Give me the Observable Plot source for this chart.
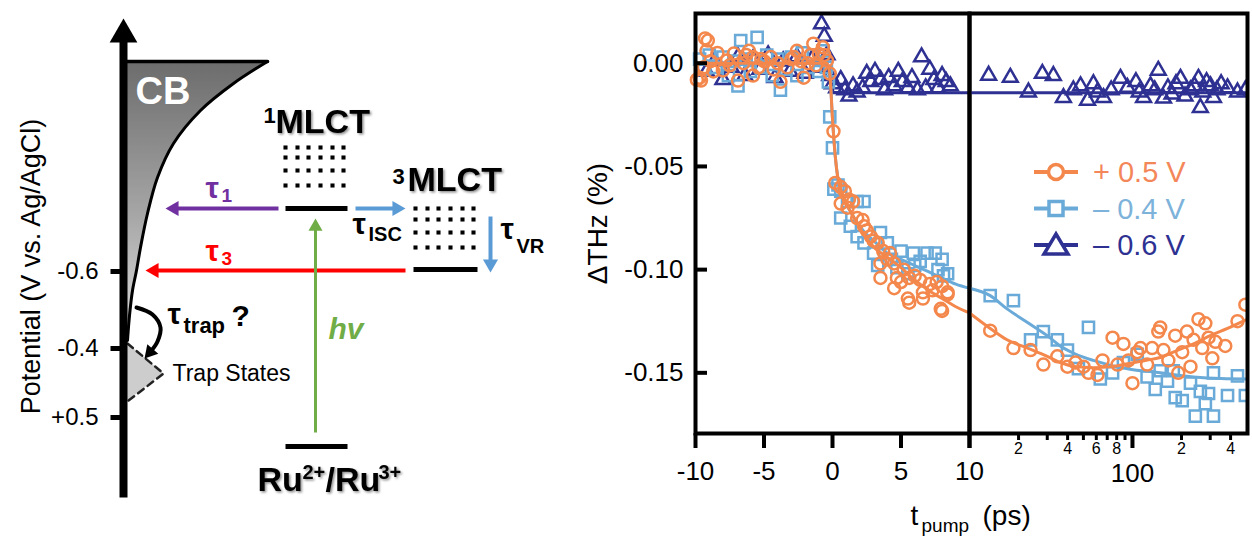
<!DOCTYPE html>
<html><head><meta charset="utf-8">
<script src="https://cdn.jsdelivr.net/npm/d3@7"></script>
<script src="https://cdn.jsdelivr.net/npm/@observablehq/plot@0.6"></script>
<style>
body{margin:0;background:#fff;}
#wrap{position:relative;width:1252px;height:536px;overflow:hidden;background:#fff;font-family:"Liberation Sans",Arial,sans-serif;}
#wrap svg{position:absolute;overflow:visible;}
</style></head><body><div id="wrap"></div>
<script>
// ---------------- DATA (chart) ----------------
const seriesLabels = ["+ 0.5 V", "– 0.4 V", "– 0.6 V"];
const yTicks = [0, -0.05, -0.10, -0.15];
const xTicksLinear = [-10, -5, 0, 5, 10];
const xTicksLogMajor = [10, 100];
const xTicksLogMinor = [20, 30, 40, 50, 60, 70, 80, 90, 200, 300, 400];
const minorTickLabels = {20: "2", 40: "4", 60: "6", 80: "8", 200: "2", 400: "4"};

// + 0.5 V  (t in ps, ΔTHz in %)
const orangePts = [
 [-9.9,-0.008],[-9.7,-0.007],[-9.6,-0.0084],[-9.4,-0.002],[-9.3,0.012],[-9.1,0.011],[-9.2,0.006],[-8.9,0.001],[-8.7,-0.004],[-8.4,0.005],
 [-8.0,-0.0035],[-7.7,0.0013],[-7.5,-0.001],[-7.2,0.0047],[-6.9,-0.0084],[-6.5,0.0],[-6.3,0.004],[-6.1,0.006],[-5.8,0.003],[-5.8,-0.006],
 [-5.4,-0.002],[-5.2,0.002],[-5.0,0.001],[-4.5,0.003],[-4.3,-0.003],[-4.0,0.0],[-3.8,-0.009],[-3.3,-0.002],[-3.0,0.002],[-2.8,0.003],
 [-2.6,0.006],[-2.3,0.001],[-2.1,-0.007],[-1.8,0.0],[-1.6,0.004],[-1.4,0.0095],[-1.2,-0.001],[-1.0,0.0045],[-0.7,0.0077],[-0.6,0.004],
 [-0.4,0.0013],[-0.2,-0.005],
 [0.07,-0.033],[0.2,-0.058],[0.6,-0.060],[0.9,-0.062],[1.2,-0.066],[1.5,-0.067],[0.6,-0.068],[1.1,-0.070],[1.8,-0.075],[2.2,-0.076],
 [2.3,-0.079],[2.5,-0.081],[2.8,-0.084],[3.0,-0.086],[3.3,-0.087],[3.7,-0.091],[4.0,-0.095],[4.2,-0.092],[3.5,-0.097],[4.5,-0.097],
 [5.2,-0.100],[4.7,-0.104],[3.5,-0.104],[5.6,-0.104],[6.0,-0.103],[6.4,-0.105],[7.1,-0.107],[7.6,-0.106],[6.6,-0.111],[8.4,-0.111],
 [4.5,-0.109],[5.5,-0.114],[5.6,-0.116],[7.9,-0.119],[6.6,-0.114],[8.4,-0.112],[7.3,-0.110],[8.0,-0.108],[5.0,-0.106],[8.0,-0.120],
 [13.4,-0.1296],[18.6,-0.138],[23.7,-0.139],[28.4,-0.146],[34.6,-0.142],[39.9,-0.147],[44.7,-0.145],[50.1,-0.147],[53.7,-0.150],[61.0,-0.151],
 [65.5,-0.144],[75.5,-0.133],[81,-0.146],[88,-0.136],[94.5,-0.144],[100,-0.155],[107,-0.140],[112,-0.138],[123,-0.146],[132,-0.138],
 [144,-0.130],[148,-0.128],[155,-0.139],[166,-0.144],[183,-0.132],[191,-0.150],[202,-0.140],[216,-0.130],[227,-0.147],[237,-0.134],
 [254,-0.124],[268,-0.138],[280,-0.126],[293,-0.133],[309,-0.143],[323,-0.135],[371,-0.137],[441,-0.125],[493,-0.117]
];
const orangeFit = [
 [-10,0],[-0.4,0],[-0.2,-0.005],[0,-0.027],[0.2,-0.045],[0.4,-0.056],[0.7,-0.063],[1,-0.068],[1.5,-0.074],[2,-0.080],[2.5,-0.085],
 [3,-0.089],[4,-0.094],[5,-0.099],[6,-0.105],[7,-0.110],[8,-0.114],[9,-0.118],[10,-0.121],
 [13.4,-0.1285],[17,-0.134],[22.7,-0.138],[30,-0.142],[36,-0.145],[45,-0.147],[57.6,-0.1475],[75,-0.147],[93,-0.1456],[120,-0.144],
 [148,-0.1426],[190,-0.139],[237,-0.136],[300,-0.132],[383,-0.1285],[508,-0.124]
];

// – 0.4 V
const bluePts = [
 [-9.7,0.002],[-9.4,-0.003],[-9.0,0.004],[-8.5,-0.002],[-8.0,0.003],[-7.6,-0.006],[-7.2,0.001],[-6.9,-0.011],[-6.7,0.011],[-6.3,0.002],
 [-6.0,-0.004],[-5.5,0.0125],[-5.2,-0.002],[-4.8,0.004],[-4.4,-0.006],[-4.0,0.002],[-3.8,-0.013],[-3.4,-0.003],[-3.0,0.003],[-2.6,-0.006],
 [-2.2,0.005],[-1.8,-0.002],[-1.4,0.004],[-1.0,-0.004],[-0.7,0.006],[-0.45,-0.002],[-0.3,-0.009],
 [-0.2,-0.026],[0.0,-0.041],[0.1,-0.061],[0.4,-0.059],[0.6,-0.062],[1.1,-0.067],[1.8,-0.067],[2.3,-0.067],[0.6,-0.075],[1.3,-0.079],
 [1.8,-0.084],[2.3,-0.087],[3.0,-0.092],[3.5,-0.082],[4.0,-0.087],[3.3,-0.098],[4.3,-0.095],[4.7,-0.099],[5.0,-0.091],[5.5,-0.102],
 [5.9,-0.092],[6.0,-0.098],[6.4,-0.096],[6.9,-0.092],[7.5,-0.092],[7.7,-0.100],[8.0,-0.095],[8.1,-0.103],[8.4,-0.102],
 [13.4,-0.1126],[18.6,-0.115],[23.7,-0.134],[28.4,-0.130],[34.6,-0.134],[39.9,-0.139],[46.6,-0.148],[53.7,-0.128],[63.5,-0.153],[75.5,-0.150],
 [88,-0.145],[107,-0.141],[123,-0.152],[138,-0.158],[148,-0.149],[164,-0.154],[178,-0.149],[183,-0.162],[202,-0.1635],[227,-0.155],
 [243,-0.171],[261,-0.159],[280,-0.165],[293,-0.160],[314,-0.171],[314,-0.150],[383,-0.161],[441,-0.1515],[493,-0.161]
];
const blueFit = [
 [-10,0],[-0.4,0],[-0.2,-0.005],[0,-0.027],[0.2,-0.045],[0.4,-0.056],[0.7,-0.063],[1,-0.068],[1.5,-0.074],[2,-0.079],[2.5,-0.083],
 [3,-0.086],[4,-0.092],[5,-0.095],[6,-0.098],[7,-0.101],[8,-0.104],[9,-0.107],[10,-0.109],
 [13.4,-0.1126],[17,-0.119],[22.7,-0.1256],[30,-0.132],[36,-0.137],[45,-0.141],[57.6,-0.144],[75,-0.1465],[93,-0.148],[148,-0.150],
 [237,-0.152],[350,-0.1528],[508,-0.153]
];

// – 0.6 V
const navyPts = [
 [-9.2,-0.004],[-8.6,0.001],[-8.0,-0.008],[-7.4,-0.002],[-6.9,0.003],[-6.4,-0.006],[-5.8,0.002],[-5.3,-0.003],[-4.7,0.004],[-4.2,-0.007],
 [-3.6,0.001],[-3.1,-0.004],[-2.6,0.003],[-2.0,-0.005],[-1.5,0.002],[-1.1,-0.002],[-0.8,0.019],[-0.6,0.013],[-0.4,0.004],[-0.2,-0.006],[0.0,-0.010],
 [0.3,-0.012],[0.6,-0.008],[0.9,-0.013],[1.2,-0.016],[1.5,-0.011],[1.8,-0.014],[2.2,-0.012],[2.5,-0.005],[2.8,-0.009],[3.1,-0.004],
 [3.5,-0.008],[3.8,-0.013],[4.1,-0.007],[4.5,-0.011],[4.8,-0.004],[5.1,-0.009],[5.5,-0.012],[5.8,-0.007],[6.2,-0.013],[6.5,0.003],
 [6.8,-0.012],[7.1,-0.003],[7.4,-0.008],[7.7,-0.012],[8.0,-0.006],[8.3,-0.009],[8.6,-0.011],
 [13.1,-0.0059],[17.8,-0.0069],[23.0,-0.014],[28.0,-0.005],[32.7,-0.006],[37.7,-0.0167],[43.4,-0.013],[48,-0.011],[53.0,-0.018],[57.6,-0.010],
 [61,-0.014],[66.4,-0.0167],[74,-0.013],[84.4,-0.0074],[93.1,-0.0118],[105,-0.009],[110,-0.014],[117,-0.0167],[129,-0.011],[137,-0.013],
 [144,-0.0035],[155,-0.017],[165,-0.012],[175,-0.015],[185,-0.010],[197,-0.0074],[210,-0.016],[227,-0.013],[240,-0.011],[254,-0.0074],
 [261,-0.0215],[270,-0.014],[285,-0.009],[301,-0.011],[314,-0.0167],[330,-0.013],[350,-0.010],[383,-0.012],[441,-0.014],[493,-0.013]
];
const navyFit = [[-10,0],[-0.4,0],[0.05,-0.0143],[10,-0.0143],[508,-0.0143]];

// ---------------- DATA (schematic, left) ----------------
const potentialTicks = [{label:"-0.6", y:271},{label:"-0.4", y:348},{label:"+0.5", y:417}];
const cbEdge = [[267,61],[233,83],[200,110],[173,143],[157,177],[147,213],[140,247],[136,270],[132,290],[129,315],[127,340]];
const trapEdge = [[127,343],[145,358],[163,373],[145,387],[128,400]];
const trapArrowPath = [[136,307],[152,314],[160,327],[157,341],[151,350],[144,358]];
const levels = [{name:"1MLCT", x1:285, x2:347, y:208},{name:"3MLCT", x1:413, x2:477, y:269},{name:"Ru", x1:285, x2:347, y:446}];
const grid1 = {cols:[285,297,308,320,332,343], rows:[147,157,170,185]};
const grid3 = {cols:[415,427,438,450,462,473], rows:[208,219,232,247]};
const arrows = [
 {name:"axis", x1:123, y1:497, x2:123, y2:18, c:"#000", w:8, r:10.3},
 {name:"tau1", x1:278, y1:208, x2:165, y2:208, c:"#7030A0", w:4, r:5.6},
 {name:"tau3", x1:405, y1:270, x2:145, y2:270, c:"#FF0000", w:4, r:5.6},
 {name:"tauISC", x1:355, y1:208, x2:405, y2:208, c:"#5B9BD5", w:4, r:5.6},
 {name:"tauVR", x1:490, y1:216, x2:490, y2:272, c:"#5B9BD5", w:4, r:5.6},
 {name:"hv", x1:315, y1:432, x2:315, y2:218, c:"#70AD47", w:3, r:5.2}
];
const diagText = [
 {t:"CB", x:135, y:103, s:38, w:"bold", c:"#fff"},
 {t:"1", x:263, y:122, s:22, w:"bold"},
 {t:"MLCT", x:275, y:132, s:34, w:"bold", sh:1},
 {t:"3", x:392, y:183, s:22, w:"bold"},
 {t:"MLCT", x:407, y:190, s:34, w:"bold", sh:1},
 {t:"τ", x:205, y:197, s:30, w:"bold", c:"#7030A0"},
 {t:"1", x:221, y:201, s:19, w:"bold", c:"#7030A0"},
 {t:"τ", x:205, y:260, s:30, w:"bold", c:"#FF0000"},
 {t:"3", x:221, y:264, s:19, w:"bold", c:"#FF0000"},
 {t:"τ", x:352, y:233, s:30, w:"bold"},
 {t:"ISC", x:368, y:240, s:20, w:"bold"},
 {t:"τ", x:500, y:238, s:30, w:"bold"},
 {t:"VR", x:516, y:252, s:20, w:"bold"},
 {t:"hv", x:328, y:338, s:30, w:"bold", st:"italic", c:"#70AD47"},
 {t:"τ", x:167, y:323, s:30, w:"bold"},
 {t:"trap", x:183, y:332, s:22, w:"bold"},
 {t:"?", x:231, y:325, s:30, w:"bold"},
 {t:"Trap States", x:172, y:380, s:23, w:"normal"},
 {t:"Ru", x:257, y:490, s:34, w:"bold", sh:1},
 {t:"2+", x:302, y:478, s:20, w:"bold", sh:1},
 {t:"/Ru", x:325, y:490, s:34, w:"bold", sh:1},
 {t:"3+", x:378, y:478, s:20, w:"bold", sh:1}
];

// ---------------- STYLE ----------------
const ORANGE = "#F4874B", LBLUE = "#6AAAD8", NAVY = "#2E3192";
const FONT = '"Liberation Sans", Arial, Helvetica, sans-serif';
const baseStyle = {background: "transparent", overflow: "visible", fontFamily: FONT, fontSize: "26px", color: "black"};
const yDomain = [-0.1794, 0.0241];
const tx = d => d[0], ty = d => d[1];
const wrap = document.getElementById("wrap");
function place(el, left) { el.style.position = "absolute"; el.style.left = left + "px"; el.style.top = "0px"; wrap.appendChild(el); }

// ---------------- LEFT SCHEMATIC ----------------
const AX = 123;
function headOf(a) {
  const dx = a.x2 - a.x1, dy = a.y2 - a.y1, L = Math.hypot(dx, dy), ux = dx / L, uy = dy / L, k = 0.7776 * a.r;
  return {hx: a.x2 - ux * 2 * k, hy: a.y2 - uy * 2 * k, ex: a.x2 - ux * 2.5 * k, ey: a.y2 - uy * 2.5 * k, rot: Math.atan2(ux, -uy) * 180 / Math.PI};
}
const diagMarks = [];
diagMarks.push(Plot.areaX(cbEdge, {y: ty, x1: () => AX, x2: tx, fill: "url(#cbGrad)", curve: "catmull-rom"}));
diagMarks.push(Plot.areaX(trapEdge, {y: ty, x1: () => AX, x2: tx, fill: "#cdcdcd"}));
diagMarks.push(Plot.line(cbEdge, {x: tx, y: ty, stroke: "#000", strokeWidth: 3, curve: "catmull-rom"}));
diagMarks.push(Plot.line([[AX, cbEdge[0][1]], cbEdge[0]], {x: tx, y: ty, stroke: "#000", strokeWidth: 3.5}));
diagMarks.push(Plot.line(trapEdge, {x: tx, y: ty, stroke: "#222", strokeWidth: 2.5, strokeDasharray: "7,5"}));
// tau_trap curved arrow
diagMarks.push(Plot.line(trapArrowPath.slice(0, -1), {x: tx, y: ty, stroke: "#000", strokeWidth: 4, curve: "catmull-rom"}));
{
  const n = trapArrowPath.length, a = {x1: trapArrowPath[n-2][0], y1: trapArrowPath[n-2][1], x2: trapArrowPath[n-1][0], y2: trapArrowPath[n-1][1], r: 5.4};
  const h = headOf(a);
  diagMarks.push(Plot.dot([h], {x: d => d.hx, y: d => d.hy, r: a.r, symbol: "triangle", fill: "#000", stroke: "none", rotate: h.rot}));
}
// axis ticks
diagMarks.push(Plot.link(potentialTicks, {x1: () => AX - 13, x2: () => AX, y1: d => d.y, y2: d => d.y, stroke: "#000", strokeWidth: 5}));
diagMarks.push(Plot.text(potentialTicks, {x: () => 98, y: d => d.y, text: d => d.label, textAnchor: "end", lineAnchor: "middle", fontSize: 24, fill: "#000"}));
diagMarks.push(Plot.text(["Potential (V vs. Ag/AgCl)"], {x: () => 31, y: () => 266, text: d => d, rotate: -90, textAnchor: "middle", lineAnchor: "middle", fontSize: 27, fill: "#000"}));
// arrows
for (const a of arrows) {
  const h = headOf(a);
  diagMarks.push(Plot.link([a], {x1: d => d.x1, y1: d => d.y1, x2: () => h.ex, y2: () => h.ey, stroke: a.c, strokeWidth: a.w}));
  diagMarks.push(Plot.dot([a], {x: () => h.hx, y: () => h.hy, r: a.r, symbol: "triangle", fill: a.c, stroke: "none", rotate: h.rot}));
}
// energy levels
diagMarks.push(Plot.link(levels, {x1: d => d.x1, x2: d => d.x2, y1: d => d.y, y2: d => d.y, stroke: "#000", strokeWidth: 5}));
// vibrational dot grids
const gridDots = [];
for (const g of [grid1, grid3]) for (const r of g.rows) for (const c of g.cols) gridDots.push([c, r]);
diagMarks.push(Plot.dot(gridDots, {x: tx, y: ty, symbol: "square", r: 2.3, fill: "#000", stroke: "none"}));
// texts
for (const d of diagText) {
  diagMarks.push(Plot.text([d], {x: v => v.x, y: v => v.y, text: v => v.t, fontSize: d.s, fontWeight: d.w || "normal", fontStyle: d.st || "normal", fill: d.c || "#000", textAnchor: "start", lineAnchor: "bottom"}));
}
const diag = Plot.plot({
  width: 560, height: 536, margin: 0,
  x: {domain: [0, 560], axis: null},
  y: {domain: [0, 536], reverse: true, axis: null},
  style: baseStyle,
  marks: diagMarks
});
{
  const defs = d3.select(diag).insert("defs", ":first-child");
  const g = defs.append("linearGradient").attr("id", "cbGrad").attr("x1", 0).attr("y1", 0).attr("x2", 0).attr("y2", 1);
  g.append("stop").attr("offset", "0%").attr("stop-color", "#6c6c6c");
  g.append("stop").attr("offset", "55%").attr("stop-color", "#a6a6a6");
  g.append("stop").attr("offset", "100%").attr("stop-color", "#dedede");
  const f = defs.append("filter").attr("id", "txtShadow").attr("x", "-10%").attr("y", "-20%").attr("width", "130%").attr("height", "150%");
  f.append("feDropShadow").attr("dx", 1.5).attr("dy", 1.5).attr("stdDeviation", 1.3).attr("flood-color", "#000").attr("flood-opacity", 0.45);
  const shadowed = new Set(diagText.filter(d => d.sh).map(d => d.t));
  d3.select(diag).selectAll("text").filter(function() { return shadowed.has(this.textContent); }).attr("filter", "url(#txtShadow)");
}
place(diag, 0);

// ---------------- CHART: linear panel (-10 .. 10 ps) ----------------
const inA = d => d[0] <= 10, inB = d => d[0] >= 10;
const panelA = Plot.plot({
  width: 409, height: 536, marginLeft: 135, marginRight: 0, marginTop: 13, marginBottom: 103,
  x: {type: "linear", domain: [-10, 10]},
  y: {domain: yDomain},
  style: baseStyle,
  marks: [
    Plot.line(navyFit.filter(inA), {x: tx, y: ty, stroke: NAVY, strokeWidth: 3}),
    Plot.dot(navyPts.filter(inA), {x: tx, y: ty, symbol: "triangle", r: 5.5, stroke: NAVY, strokeWidth: 2.5, fill: "none"}),
    Plot.line(blueFit.filter(inA), {x: tx, y: ty, stroke: LBLUE, strokeWidth: 3, curve: "monotone-x"}),
    Plot.dot(bluePts.filter(inA), {x: tx, y: ty, symbol: "square", r: 6.3, stroke: LBLUE, strokeWidth: 2.5, fill: "none"}),
    Plot.line(orangeFit.filter(inA), {x: tx, y: ty, stroke: ORANGE, strokeWidth: 3, curve: "monotone-x"}),
    Plot.dot(orangePts.filter(inA), {x: tx, y: ty, symbol: "circle", r: 6, stroke: ORANGE, strokeWidth: 2.5, fill: "none"}),
    Plot.frame({stroke: "#000", strokeWidth: 4}),
    Plot.axisY(yTicks, {tickSize: 0, tickPadding: 12, tickFormat: d => d.toFixed(2), fontSize: 26, label: null}),
    Plot.axisY(yTicks, {tickSize: 12, dx: 12, tickFormat: () => "", strokeWidth: 4, label: null}),
    Plot.axisX(xTicksLinear, {tickSize: 15, tickPadding: 13, strokeWidth: 4, tickFormat: d => String(d), fontSize: 26, label: null}),
    Plot.text(["ΔTHz (%)"], {frameAnchor: "left", text: d => d, dx: -97, rotate: -90, textAnchor: "middle", lineAnchor: "middle", fontSize: 28})
  ]
});
place(panelA, 560);

// ---------------- CHART: log panel (10 .. ~500 ps) ----------------
const panelB = Plot.plot({
  width: 283, height: 536, marginLeft: 0, marginRight: 5, marginTop: 13, marginBottom: 103,
  x: {type: "log", domain: [10, 508]},
  y: {domain: yDomain, axis: null},
  style: baseStyle,
  marks: [
    Plot.line(navyFit.filter(inB), {x: tx, y: ty, stroke: NAVY, strokeWidth: 3, clip: true}),
    Plot.dot(navyPts.filter(inB), {x: tx, y: ty, symbol: "triangle", r: 5.5, stroke: NAVY, strokeWidth: 2.5, fill: "none", clip: true}),
    Plot.line(blueFit.filter(inB), {x: tx, y: ty, stroke: LBLUE, strokeWidth: 3, curve: "monotone-x", clip: true}),
    Plot.dot(bluePts.filter(inB), {x: tx, y: ty, symbol: "square", r: 6.3, stroke: LBLUE, strokeWidth: 2.5, fill: "none", clip: true}),
    Plot.line(orangeFit.filter(inB), {x: tx, y: ty, stroke: ORANGE, strokeWidth: 3, curve: "monotone-x", clip: true}),
    Plot.dot(orangePts.filter(inB), {x: tx, y: ty, symbol: "circle", r: 6, stroke: ORANGE, strokeWidth: 2.5, fill: "none", clip: true}),
    Plot.frame({stroke: "#000", strokeWidth: 4}),
    Plot.axisX(xTicksLogMajor, {tickSize: 15, tickPadding: 15, strokeWidth: 4, tickFormat: d => (d === 100 ? "100" : ""), fontSize: 26, label: null}),
    Plot.axisX(xTicksLogMinor, {tickSize: 7, tickPadding: 5, strokeWidth: 3, tickFormat: () => "", label: null}),
    Plot.text(xTicksLogMinor.filter(d => minorTickLabels[d]), {x: d => d, text: d => minorTickLabels[d], frameAnchor: "bottom", dy: 9, lineAnchor: "top", textAnchor: "middle", fontSize: 16}),
    Plot.text(["t"], {frameAnchor: "bottom-left", text: d => d, dx: -59, dy: 91, textAnchor: "start", lineAnchor: "bottom", fontSize: 28}),
    Plot.text(["pump"], {frameAnchor: "bottom-left", text: d => d, dx: -48, dy: 98, textAnchor: "start", lineAnchor: "bottom", fontSize: 19}),
    Plot.text(["(ps)"], {frameAnchor: "bottom-left", text: d => d, dx: 13, dy: 91, textAnchor: "start", lineAnchor: "bottom", fontSize: 28})
  ]
});
place(panelB, 969);

// ---------------- LEGEND ----------------
const legendColors = [ORANGE, LBLUE, NAVY];
const legendTextColors = ["#F4875A", "#7DB3DA", NAVY];
const legendSymbols = ["circle", "square", "triangle"];
const lg = d3.create("svg").attr("width", 230).attr("height", 120).style("font-family", FONT);
seriesLabels.forEach((lab, i) => {
  const cy = 22 + i * 36.5, g = lg.append("g").attr("transform", `translate(0,${cy})`);
  g.append("line").attr("x1", 14).attr("x2", 58).attr("y1", 0).attr("y2", 0).attr("stroke", legendColors[i]).attr("stroke-width", 4);
  if (legendSymbols[i] === "circle") g.append("circle").attr("cx", 36).attr("cy", 0).attr("r", 7.5).attr("fill", "#fff").attr("stroke", legendColors[i]).attr("stroke-width", 3.5);
  if (legendSymbols[i] === "square") g.append("rect").attr("x", 29).attr("y", -7).attr("width", 14).attr("height", 14).attr("fill", "#fff").attr("stroke", legendColors[i]).attr("stroke-width", 3.5);
  if (legendSymbols[i] === "triangle") g.append("path").attr("d", "M36,-11L48,9L24,9Z").attr("fill", "#fff").attr("stroke", legendColors[i]).attr("stroke-width", 3.5).attr("stroke-linejoin", "miter");
  g.append("text").attr("x", 73).attr("y", 10).attr("font-size", 29).attr("fill", legendTextColors[i]).text(lab);
});
const lgNode = lg.node();
lgNode.style.position = "absolute"; lgNode.style.left = "1020px"; lgNode.style.top = "150px";
wrap.appendChild(lgNode);
</script>
</body></html>
